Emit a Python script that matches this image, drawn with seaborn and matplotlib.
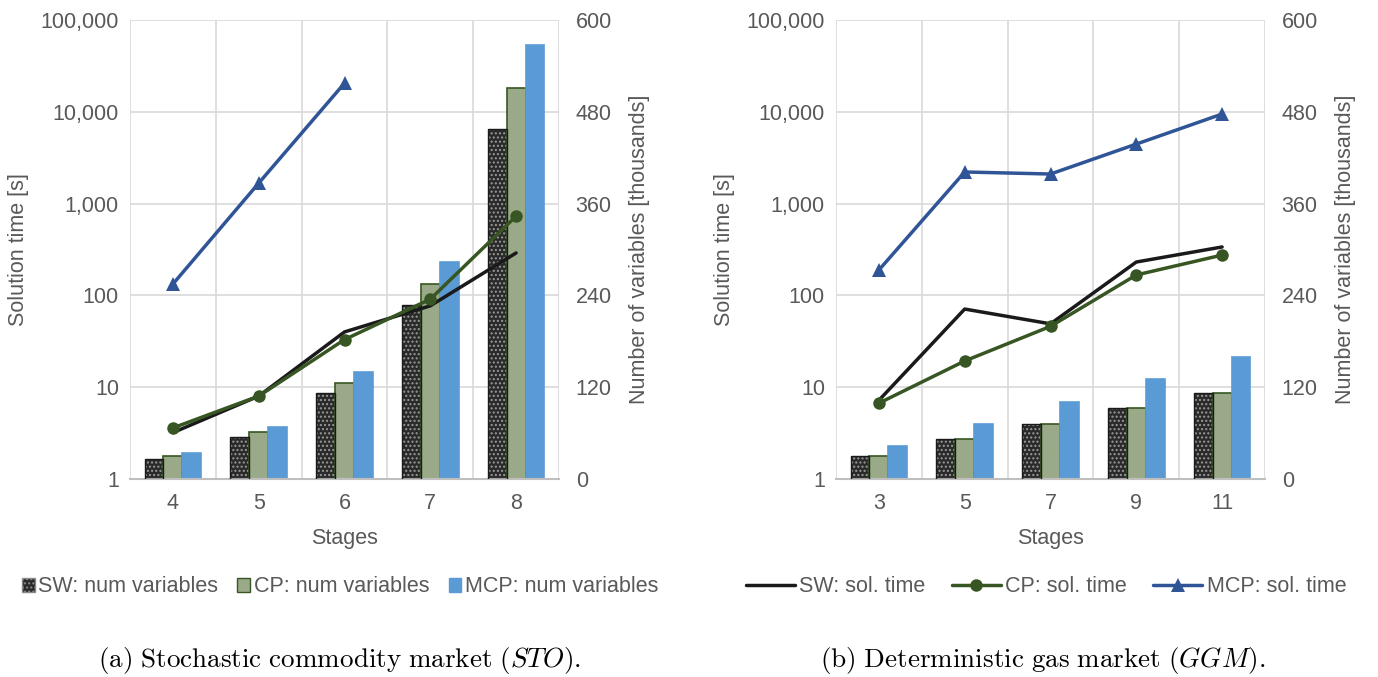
import numpy as np
import pandas as pd
import matplotlib
matplotlib.use("Agg")
import matplotlib.pyplot as plt
import matplotlib.patches as mpatches
import matplotlib.lines as mlines
from matplotlib.ticker import FixedLocator, FuncFormatter
import seaborn as sns

# ---------------- data ----------------
models = ["SW", "CP", "MCP"]

# (a) STO
sto_stages = ["4", "5", "6", "7", "8"]
sto_vars_sw = [26, 55, 112, 227, 457]
sto_vars_cp = [30, 61, 125, 255, 511]
sto_vars_mcp = [34, 68, 140, 284, 567]
sto_time_sw = [3.2, 8.0, 40, 77, 290]
sto_time_cp = [3.6, 8.0, 33, 91, 730]
sto_time_mcp = [133, 1670, 20500]

# (b) GGM
ggm_stages = ["3", "5", "7", "9", "11"]
ggm_vars_sw = [30, 52, 72, 93, 112]
ggm_vars_cp = [30, 52, 72, 93, 112]
ggm_vars_mcp = [43, 72, 101, 131, 160]
ggm_time_sw = [7.2, 71, 49, 231, 337]
ggm_time_cp = [6.7, 19.3, 46, 167, 275]
ggm_time_mcp = [189, 2210, 2100, 4450, 9460]

captions = [r"$\mathrm{(a)\ Stochastic\ commodity\ market\ (}STO\mathrm{).}$",
            r"$\mathrm{(b)\ Deterministic\ gas\ market\ (}GGM\mathrm{).}$"]

# ---------------- style ----------------
sns.set_theme(style="white")
plt.rcParams["font.family"] = ["Liberation Sans", "DejaVu Sans"]
plt.rcParams["mathtext.fontset"] = "cm"
plt.rcParams["hatch.linewidth"] = 1.0

FS = 15.5
TXT = "#595959"
GRID = "#d9d9d9"
AXL = "#bfbfbf"
BAR_FACE = {"SW": "#2a2a2a", "CP": "#9aaa88", "MCP": "#5b9bd5"}
BAR_HATCH = {"SW": "....", "CP": "", "MCP": ""}
BAR_HCOL = {"SW": "#9a9a9a", "CP": "#375623", "MCP": "#5b9bd5"}
BAR_EDGE = {"SW": "#1a1a1a", "CP": "#375623", "MCP": "#5b9bd5"}
LINE_COL = {"SW": "#1a1a1a", "CP": "#375623", "MCP": "#2f5597"}
LINE_MK = {"SW": None, "CP": "o", "MCP": "^"}

fig = plt.figure(figsize=(13.78, 6.77), dpi=100)

def panel(rect, stages, vars_, times, caption, cap_x, legend_kind, leg_x):
    ax = fig.add_axes(rect)
    df = pd.DataFrame({
        "stage": [s for m in models for s in stages],
        "model": [m for m in models for _ in stages],
        "value": [v for m in models for v in vars_[m]],
    })
    sns.barplot(data=df, x="stage", y="value", hue="model", hue_order=models,
                order=stages, palette=[BAR_FACE[m] for m in models],
                width=0.66, dodge=True, ax=ax, legend=False, saturation=1,
                linewidth=0)
    for m, cont in zip(models, ax.containers):
        for p in cont:
            p.set_facecolor(BAR_FACE[m])
            p.set_hatch(BAR_HATCH[m])
            p.set_edgecolor(BAR_HCOL[m])
            p.set_linewidth(0 if m == "SW" else 1.2)
            p.set_zorder(2)
            if m == "SW":
                ax.add_patch(mpatches.Rectangle(p.get_xy(), p.get_width(), p.get_height(),
                                                fill=False, edgecolor=BAR_EDGE[m],
                                                linewidth=1.0, zorder=3))
    ax.set_ylim(0, 600)
    ax.set_xlim(-0.5, len(stages) - 0.5)
    ax.yaxis.set_major_locator(FixedLocator([0, 120, 240, 360, 480, 600]))
    ax.set_xlabel("Stages", color=TXT, fontsize=FS, labelpad=10)
    ax.set_axisbelow(True)
    ax.grid(axis="y", color=GRID, linewidth=1.2)
    ax.set_xticks(np.arange(-0.5, len(stages)), minor=True)
    ax.grid(axis="x", which="minor", color=GRID, linewidth=1.2)
    ax.grid(axis="x", which="major", visible=False)
    for s in ["top", "left", "right"]:
        ax.spines[s].set_visible(False)
    ax.spines["bottom"].set_color(AXL)
    ax.spines["bottom"].set_linewidth(1.5)

    axl = ax.twinx()
    # bars axis ticks on the right, log axis ticks on the left
    ax.yaxis.tick_right()
    ax.yaxis.set_label_position("right")
    axl.yaxis.tick_left()
    axl.yaxis.set_label_position("left")
    ax.set_ylabel("Number of variables [thousands]", color=TXT, fontsize=FS, labelpad=12)
    ax.tick_params(axis="both", which="both", length=0, labelsize=FS, labelcolor=TXT)
    ax.tick_params(axis="y", pad=12)
    ax.tick_params(axis="x", pad=10)

    axl.set_yscale("log")
    axl.set_ylim(1, 100000)
    axl.yaxis.set_major_locator(FixedLocator([1, 10, 100, 1000, 10000, 100000]))
    axl.yaxis.set_minor_locator(FixedLocator([]))
    axl.yaxis.set_major_formatter(FuncFormatter(lambda v, p: f"{v:,.0f}"))
    axl.set_ylabel("Solution time [s]", color=TXT, fontsize=FS, labelpad=8)
    axl.tick_params(axis="both", which="both", length=0, labelsize=FS, labelcolor=TXT)
    axl.tick_params(axis="y", pad=8)
    for s in axl.spines.values():
        s.set_visible(False)
    for m in models:
        y = times[m]
        sns.lineplot(x=np.arange(len(y)), y=y, ax=axl, color=LINE_COL[m],
                     marker=LINE_MK[m], markersize=9 if m == "CP" else 10,
                     markeredgewidth=0, linewidth=2.5)
    axl.set_xlim(-0.5, len(stages) - 0.5)

    if legend_kind == "bars":
        handles = []
        for m in models:
            h = mpatches.Patch(facecolor=BAR_FACE[m], hatch=BAR_HATCH[m],
                               edgecolor=BAR_HCOL[m] if m != "SW" else "#8a8a8a",
                               linewidth=1.0, label=f"{m}: num variables")
            handles.append(h)
        fig.legend(handles=handles, loc="center", bbox_to_anchor=(leg_x, 1 - 587 / 677),
                   ncol=3, frameon=False, fontsize=FS, labelcolor=TXT,
                   handlelength=0.6, handleheight=0.6, handletextpad=0.15, columnspacing=0.9)
    else:
        handles = []
        for m in models:
            h = mlines.Line2D([], [], color=LINE_COL[m], marker=LINE_MK[m],
                              markersize=9 if m == "CP" else 10, markeredgewidth=0,
                              linewidth=2.5, label=f"{m}: sol. time")
            handles.append(h)
        fig.legend(handles=handles, loc="center", bbox_to_anchor=(leg_x, 1 - 587 / 677),
                   ncol=3, frameon=False, fontsize=FS, labelcolor=TXT,
                   handlelength=2.3, handletextpad=0.2, columnspacing=1.2)

    fig.text(cap_x, 1 - 660 / 677, caption, ha="center", va="center",
             fontsize=19.5, color="black")

W, H = 1378, 677
panel([130 / W, 1 - 479 / H, 429 / W, 459 / H], sto_stages,
      {"SW": sto_vars_sw, "CP": sto_vars_cp, "MCP": sto_vars_mcp},
      {"SW": sto_time_sw, "CP": sto_time_cp, "MCP": sto_time_mcp},
      captions[0], 340 / W, "bars", 340 / W)
panel([836 / W, 1 - 479 / H, 429 / W, 459 / H], ggm_stages,
      {"SW": ggm_vars_sw, "CP": ggm_vars_cp, "MCP": ggm_vars_mcp},
      {"SW": ggm_time_sw, "CP": ggm_time_cp, "MCP": ggm_time_mcp},
      captions[1], 1043 / W, "lines", 1046 / W)

fig.savefig("out.png", dpi=100)
